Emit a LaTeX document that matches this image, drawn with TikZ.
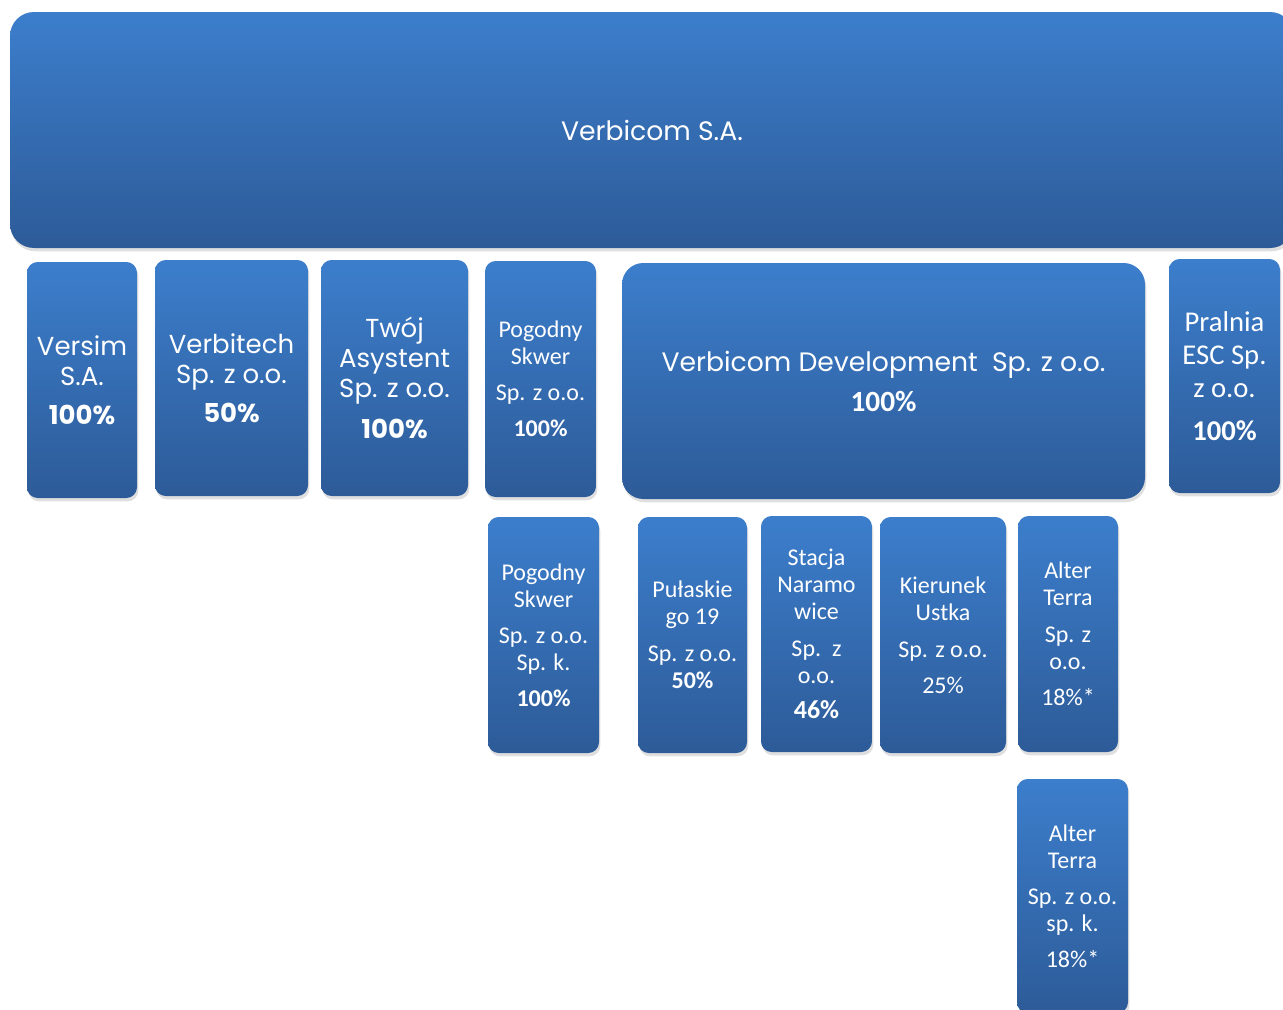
\documentclass[tikz,border=0pt]{standalone}
\usepackage{fontspec}
\setmainfont{Carlito}
\newfontfamily\gothic{Poppins}
\usetikzlibrary{shadows}
\definecolor{boxtop}{RGB}{60,126,204}
\definecolor{boxbot}{RGB}{45,91,152}

\begin{document}
\begin{tikzpicture}[x=0.75pt,y=-0.75pt,
   box/.style 2 args={rounded corners=8pt, top color=boxtop, bottom color=boxbot,
     text=white, align=center, inner sep=0pt,
     minimum width=#1*0.75pt, minimum height=#2*0.75pt,
     drop shadow={opacity=0.25, shadow xshift=1pt, shadow yshift=-2.5pt}},
   gothicfont/.style={font=\gothic\fontsize{19.5}{22.5}\selectfont},
   calfont/.style={font=\fontsize{18}{20.25}\selectfont},
   bigcalfont/.style={font=\fontsize{21.5}{24.75}\selectfont}]
   \useasboundingbox (0,0) rectangle (1283,1010);
   \clip (0,0) rectangle (1283,1010);
   % parent
   \node[box={1284}{236}, rounded corners=18pt, gothicfont] (vsa) at (652,130) {\fontsize{20}{24}\selectfont Verbicom S.A.};
   % first row
   \node[box={110}{236}, gothicfont] (versim) at (82,380) {Versim\\S.A.\\[6.75pt]{\bfseries 100\%}};
   \node[box={153}{236}, gothicfont] (vtech) at (231.5,378) {Verbitech\\Sp. z o.o.\\[6.75pt]{\bfseries 50\%}};
   \node[box={147}{236}, gothicfont] (twoj) at (394.5,378) {Twój\\Asystent\\Sp. z o.o.\\[8pt]{\bfseries 100\%}};
   \node[box={111}{236}, calfont] (pog) at (540.5,379) {Pogodny\\Skwer\\[6.75pt]Sp. z o.o.\\[6.75pt]\textbf{100\%}};
   \node[box={523}{236}, rounded corners=16pt, gothicfont] (vdev) at (883.5,381)
     {\fontsize{20}{22.5}\selectfont Verbicom Development\ \ Sp. z o.o.\\[7.5pt]{\rmfamily\fontsize{22}{22.5}\selectfont\bfseries 100\%}};
   \node[box={111}{234}, bigcalfont] (pralnia) at (1224.5,376) {Pralnia\\ESC Sp.\\z o.o.\\[8pt]\textbf{100\%}};
   % second row
   \node[box={111}{236}, calfont] (pogk) at (543.5,635) {Pogodny\\Skwer\\[6.75pt]Sp. z o.o.\\Sp. k.\\[6.75pt]\textbf{100\%}};
   \node[box={109}{236}, calfont] (pul) at (692.5,635) {Pułaskie\\go 19\\[7.5pt]Sp. z o.o.\\\textbf{50\%}};
   \node[box={111}{236}, calfont] (stacja) at (816.5,634) {Stacja\\Naramo\\wice\\[7.5pt]Sp.\ \ z\\o.o.\\[6pt]{\fontsize{19.5}{20.25}\selectfont\bfseries 46\%}};
   \node[box={126}{236}, calfont] (kier) at (943,635) {Kierunek\\Ustka\\[7.5pt]Sp. z o.o.\\[6.75pt]25\%};
   \node[box={100}{236}, calfont] (alter) at (1068,634) {Alter\\Terra\\[7.5pt]Sp. z\\o.o.\\[6.75pt]18\%*};
   % third row
   \node[box={111}{234}, calfont] (alterk) at (1072.5,896) {Alter\\Terra\\[6.75pt]Sp. z o.o.\\sp. k.\\[6.75pt]18\%*};
\end{tikzpicture}
\end{document}
